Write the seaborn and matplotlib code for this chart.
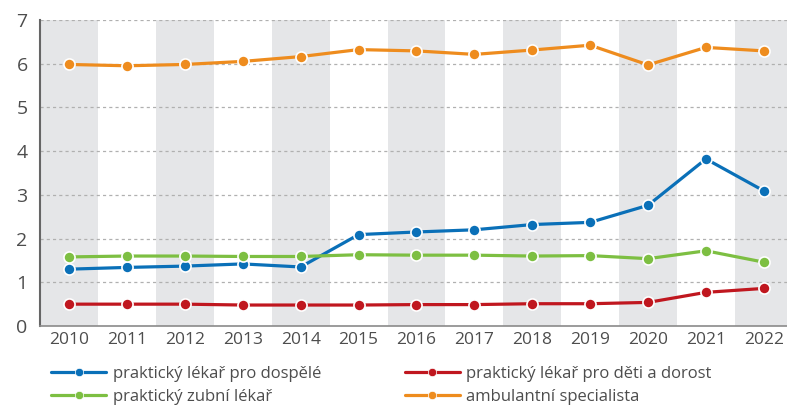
import pandas as pd
import matplotlib.pyplot as plt
import seaborn as sns

years = [2010, 2011, 2012, 2013, 2014, 2015, 2016, 2017, 2018, 2019, 2020, 2021, 2022]
dospele = [1.30, 1.34, 1.37, 1.42, 1.35, 2.09, 2.15, 2.20, 2.32, 2.37, 2.76, 3.82, 3.09]
deti = [0.50, 0.50, 0.50, 0.48, 0.48, 0.48, 0.49, 0.49, 0.51, 0.51, 0.54, 0.77, 0.86]
zubni = [1.58, 1.60, 1.60, 1.59, 1.59, 1.63, 1.62, 1.62, 1.60, 1.61, 1.54, 1.72, 1.46]
specialista = [5.98, 5.95, 5.98, 6.05, 6.16, 6.32, 6.29, 6.21, 6.31, 6.42, 5.97, 6.37, 6.29]

names = ["praktický lékař pro dospělé", "praktický lékař pro děti a dorost",
         "praktický zubní lékař", "ambulantní specialista"]
colors = ["#0a70b8", "#c0171f", "#7dbf42", "#ee8c1e"]

df = pd.DataFrame({
    "rok": [str(y) for y in years] * 4,
    "hodnota": dospele + deti + zubni + specialista,
    "typ": [n for n in names for _ in years],
})

sns.set_theme(style="white")
plt.rcParams["font.family"] = ["Open Sans", "DejaVu Sans"]

fig = plt.figure(figsize=(7.87, 4.05), dpi=100)
ax = fig.add_axes([0.051, 0.195, 0.949, 0.756])

# gray stripes behind even years
for i in range(0, len(years), 2):
    ax.axvspan(i - 0.5, i + 0.5, color="#e5e6e8", lw=0, zorder=0)

for y in range(1, 8):
    ax.axhline(y, color="#b0b0b0", lw=0.9, ls=(0, (2.5, 2.5)), zorder=1)

sns.lineplot(data=df, x="rok", y="hodnota", hue="typ", hue_order=names,
             palette=colors, marker="o", markersize=8, markeredgecolor="white",
             markeredgewidth=1.2, linewidth=2.3, ax=ax, zorder=3)

ax.set_xlim(-0.5, 12.4)
ax.set_ylim(0, 7)
ax.set_yticks(range(0, 8))
ax.set_xlabel("")
ax.set_ylabel("")
ax.tick_params(axis="both", length=0, labelcolor="#4d4d4d")
ax.tick_params(axis="x", pad=4, labelsize=12.5)
ax.tick_params(axis="y", pad=9, labelsize=14)
for s in ["top", "right"]:
    ax.spines[s].set_visible(False)
ax.spines["left"].set_color("#666666")
ax.spines["left"].set_linewidth(1.5)
ax.spines["bottom"].set_color("#8a8a8a")
ax.spines["bottom"].set_linewidth(1.2)

handles, labels = ax.get_legend_handles_labels()
order = [0, 2, 1, 3]
leg = ax.legend([handles[i] for i in order], [labels[i] for i in order], ncol=2,
                loc="upper left", bbox_to_anchor=(-0.005, -0.08), frameon=False,
                fontsize=12, handlelength=3.3, handletextpad=0.4, columnspacing=5.0,
                labelspacing=0.45, labelcolor="#4d4d4d", markerscale=0.75)
for h in leg.legend_handles:
    h.set_markeredgewidth(0.5)

fig.savefig("out.png", dpi=100)
